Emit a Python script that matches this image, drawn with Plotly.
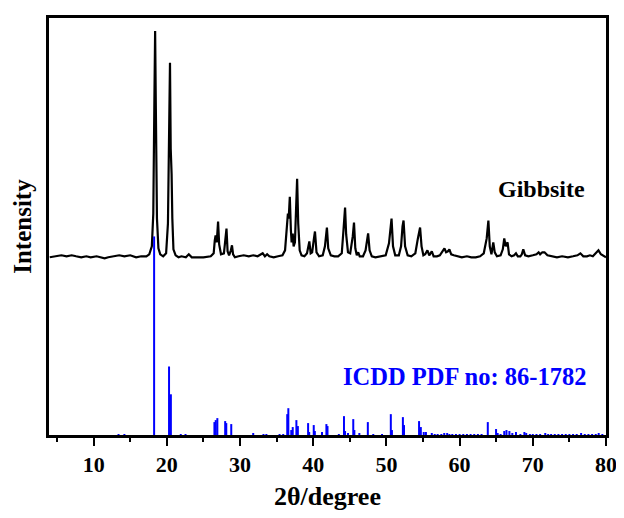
import plotly.graph_objects as go

# ---- Measured Gibbsite XRD trace (2theta, counts above its own baseline) ----
gib_2theta = [
    4.0, 5.0, 5.6, 6.3, 7.0, 7.6, 8.3, 9.0, 9.6, 10.4, 11.0, 11.5, 12.0, 12.8, 13.5, 14.2, 15.0, 15.8, 16.5, 17.2,
    17.6, 17.95, 18.15, 18.3, 18.4, 18.5, 18.65, 18.85, 19.1, 19.5,
    19.9, 20.15, 20.3, 20.43, 20.53, 20.65, 20.75, 20.9, 21.2, 21.6, 22.0, 22.6, 23.0, 23.4, 24.0, 25.0, 26.0,
    26.4, 26.55, 26.66, 26.82, 27.0, 27.15, 27.4, 27.8, 28.0, 28.15, 28.3, 28.5, 28.75, 28.9, 29.05, 29.3,
    29.8, 30.5, 31.2, 31.8, 32.4, 33.1, 33.4, 33.7, 34.0, 34.6, 35.2, 35.8,
    36.15, 36.35, 36.54, 36.65, 36.8, 36.95, 37.05, 37.2, 37.32, 37.5, 37.65, 37.8, 37.95, 38.15, 38.4, 38.8,
    39.15, 39.35, 39.47, 39.65, 39.85, 40.1, 40.24, 40.45, 40.8, 41.3, 41.6, 41.87, 42.05, 42.4, 42.9, 43.4,
    43.9, 44.15, 44.35, 44.5, 44.75, 45.05, 45.4, 45.57, 45.75, 45.95, 46.15, 46.35, 46.8, 47.15, 47.38, 47.5,
    47.7, 48.0, 48.5, 49.2, 49.9, 50.35, 50.58, 50.7, 50.9, 51.2, 51.7, 52.0, 52.2, 52.34, 52.55, 52.9, 53.4,
    53.95, 54.3, 54.6, 54.8, 55.05, 55.3, 55.6, 55.85, 56.0, 56.2, 56.45, 56.9, 57.3, 57.7, 57.93, 58.15, 58.4,
    58.6, 58.85, 59.2, 59.6, 60.3, 61.0, 61.6, 62.2, 62.8, 63.3, 63.7, 63.93, 64.12, 64.35, 64.6, 64.8, 65.1,
    65.6, 65.9, 66.1, 66.3, 66.4, 66.55, 66.75, 67.1, 67.45, 67.7, 67.95, 68.3, 68.5, 68.7, 68.95, 69.4,
    70.0, 70.5, 70.8, 71.0, 71.3, 71.6, 72.0, 72.6, 73.3, 74.0, 74.8, 75.5, 76.1, 76.5, 76.9, 77.4, 77.8,
    78.2, 78.6, 78.97, 79.3, 79.7, 80.0,
]
gib_counts = [
    1, 2, 3, 2, 3, 2, 1, 2, 1, 2, 1, 0, 1, 2, 3, 2, 3, 1, 2, 2,
    4, 12, 45, 160, 229, 150, 40, 10, 4, 2,
    5, 35, 130, 197, 110, 85, 40, 9, 3, 1, 2, 1, 4, 1, 1, 1, 2,
    5, 18, 23, 16, 37, 14, 4, 5, 18, 30, 7, 3, 8, 13, 4, 1,
    2, 3, 2, 3, 2, 5, 2, 4, 2, 1, 2, 3,
    8, 28, 45, 40, 62, 28, 16, 25, 12, 16, 55, 80, 35, 8, 3, 2,
    5, 14, 17, 5, 6, 20, 27, 6, 2, 3, 12, 31, 10, 3, 2, 2,
    5, 30, 51, 24, 6, 5, 22, 36, 10, 3, 6, 2, 2, 8, 22, 25,
    8, 2, 1, 2, 3, 15, 36, 40, 12, 3, 3, 12, 32, 38, 12, 3, 2,
    5, 20, 31, 12, 3, 4, 8, 3, 5, 7, 2, 2, 3, 8, 10, 6, 7,
    9, 4, 3, 2, 1, 2, 1, 1, 2, 5, 20, 38, 12, 4, 16, 6, 2,
    3, 9, 20, 12, 14, 16, 4, 2, 3, 5, 2, 2, 4, 9, 3, 2,
    3, 4, 6, 4, 6, 6, 3, 2, 1, 2, 1, 2, 3, 5, 2, 2, 3,
    2, 5, 8, 4, 2, 1,
]

# ---- ICDD PDF 86-1782 reference sticks (2theta, relative intensity) ----
ref_2theta = [
    13.4, 14.2, 18.26, 20.3, 20.55, 21.9, 22.55, 26.5, 26.68, 26.9, 27.97, 28.12, 28.8, 31.8, 33.2, 33.6,
    35.4, 35.9, 36.45, 36.6, 37.0, 37.2, 37.7, 37.9, 39.3, 39.45, 40.07, 40.22, 41.2, 41.8, 41.95, 43.5,
    44.2, 44.35, 44.75, 45.47, 45.62, 46.3, 47.46, 48.2, 49.4, 50.6, 50.75, 52.25, 52.4, 54.46, 54.7,
    55.1, 55.4, 56.2, 56.6, 57.0, 57.5, 57.9, 58.3, 58.6, 59.0, 59.5, 60.0, 60.5, 61.0, 61.5, 62.0, 62.5,
    63.0, 63.85, 64.98, 65.2, 65.6, 66.1, 66.4, 66.8, 67.2, 67.7, 68.3, 68.85, 69.1, 69.6, 70.0, 70.5,
    71.0, 71.7, 72.1, 72.5, 73.0, 73.5, 74.0, 74.5, 75.0, 75.5, 76.0, 76.6, 77.1, 77.6, 78.1, 78.6, 79.0, 79.5,
]
ref_intensity = [
    1, 1, 200, 69, 41, 1, 1, 13, 15, 17, 14, 12, 11, 2, 1, 1,
    1, 1, 21, 27, 5, 8, 15, 9, 12, 3, 10, 4, 3, 11, 9, 1,
    19, 4, 2, 16, 5, 2, 13, 1, 1, 21, 5, 18, 10, 14, 8,
    3, 3, 2, 1, 1, 1, 2, 2, 1, 1, 1, 1, 1, 1, 1, 1, 1,
    1, 13, 6, 2, 1, 4, 5, 4, 2, 3, 1, 3, 2, 1, 1, 1,
    1, 2, 1, 1, 1, 1, 1, 1, 1, 1, 1, 2, 1, 1, 1, 1, 2, 1,
]

x_ticks = [10, 20, 30, 40, 50, 60, 70, 80]
x_tick_labels = ["10", "20", "30", "40", "50", "60", "70", "80"]

SERIES_LABEL = "Gibbsite"
REF_LABEL = "ICDD PDF no: 86-1782"

GIB_OFFSET = 178  # vertical offset of the measured trace above the stick pattern

FONT = "Liberation Serif, Times New Roman, serif"

# stick segments
sx, sy = [], []
for t, h in zip(ref_2theta, ref_intensity):
    sx += [t, t, None]
    sy += [0, h, None]

fig = go.Figure()
fig.add_trace(go.Scatter(
    x=gib_2theta, y=[c + GIB_OFFSET for c in gib_counts], mode="lines",
    line=dict(color="black", width=2.2), name=SERIES_LABEL, showlegend=False,
))
fig.add_trace(go.Scatter(
    x=sx, y=sy, mode="lines", line=dict(color="#0000ff", width=2),
    name=REF_LABEL, showlegend=False, connectgaps=False,
))

# the page body adds an 8 px margin, so the figure is 8 px smaller than the window
fig.update_layout(
    width=616, height=510,
    margin=dict(l=41, r=13, t=7, b=83),
    plot_bgcolor="white", paper_bgcolor="white",
    font=dict(family=FONT, color="black"),
    xaxis=dict(
        range=[3.9, 80], tickmode="array", tickvals=x_ticks, ticktext=x_tick_labels,
        showline=True, mirror=True, linecolor="black", linewidth=2.5,
        ticks="outside", ticklen=8, tickwidth=2, tickcolor="black",
        tickfont=dict(family=FONT, size=22, weight="bold", color="black"),
        showgrid=False, zeroline=False,
        minor=dict(tickvals=[5, 15, 25, 35, 45, 55, 65, 75], ticks="outside", ticklen=4,
                   tickwidth=2, tickcolor="black", showgrid=False),
    ),
    yaxis=dict(
        range=[0, 420], showline=True, mirror=True, linecolor="black", linewidth=2.5,
        ticks="", showticklabels=False, showgrid=False, zeroline=False,
    ),
    annotations=[
        dict(text="2θ/degree", xref="paper", yref="paper", x=0.5, y=-0.148,
             showarrow=False, font=dict(family=FONT, size=26, weight="bold", color="black"),
             xanchor="center", yanchor="middle"),
        dict(text="Intensity", xref="paper", yref="paper", x=-0.048, y=0.5, textangle=-90,
             showarrow=False, font=dict(family=FONT, size=25, weight="bold", color="black"),
             xanchor="center", yanchor="middle"),
        dict(text=SERIES_LABEL, xref="x", yref="y", x=71.2, y=248,
             showarrow=False, font=dict(family=FONT, size=24, weight="bold", color="black"),
             xanchor="center", yanchor="middle"),
        dict(text=REF_LABEL, xref="x", yref="y", x=60.7, y=59,
             showarrow=False, font=dict(family=FONT, size=24.5, weight="bold", color="#0000ff"),
             xanchor="center", yanchor="middle"),
    ],
)

fig.write_html("out.html")
